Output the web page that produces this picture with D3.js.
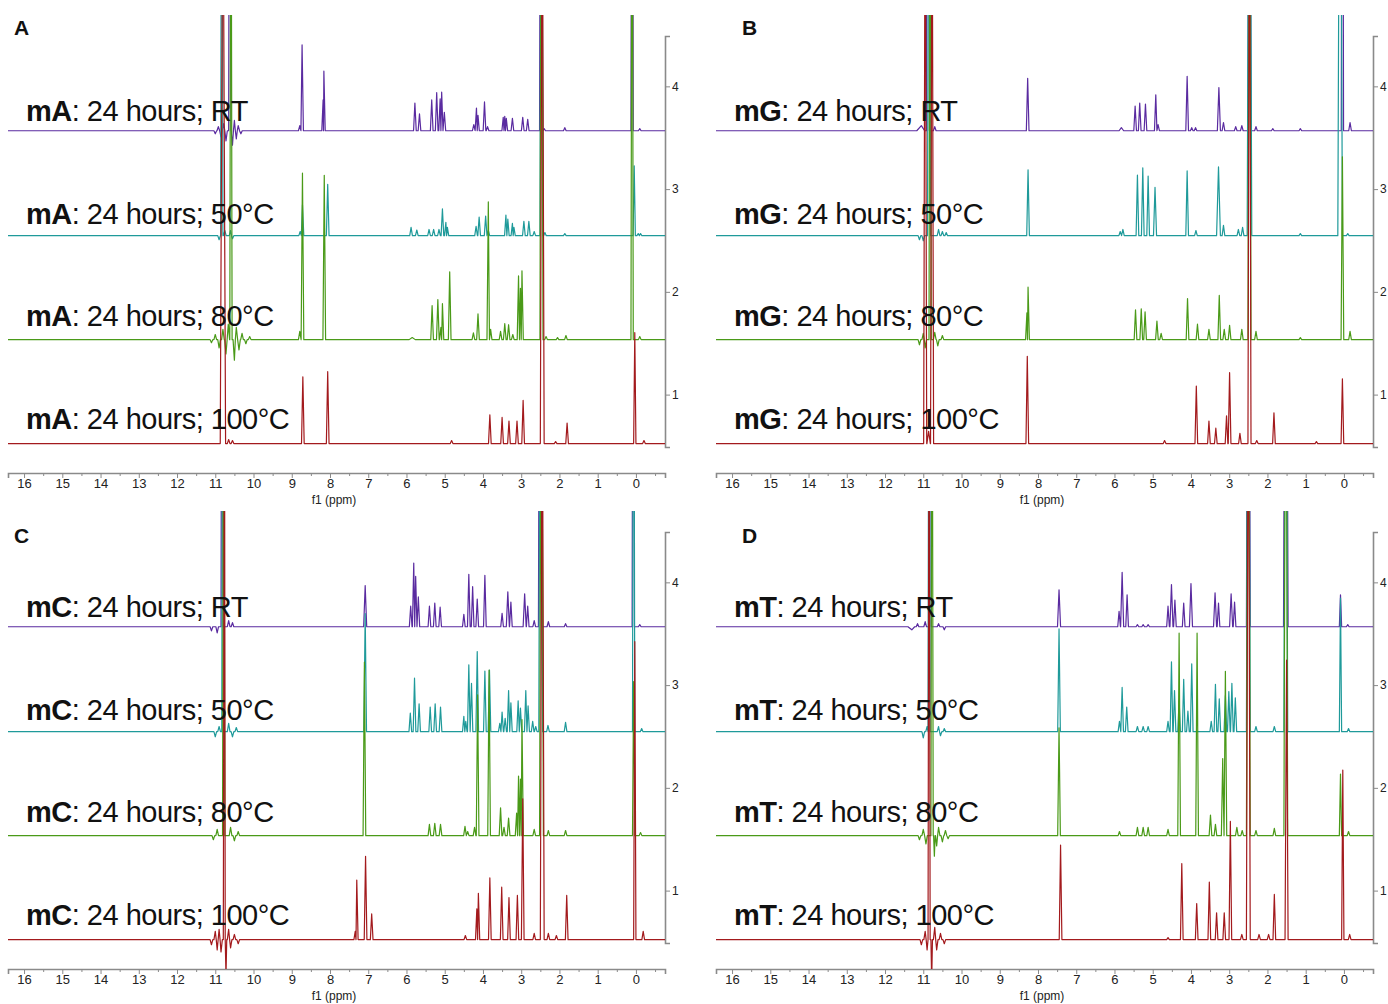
<!DOCTYPE html>
<html>
<head>
<meta charset="utf-8">
<script src="https://cdn.jsdelivr.net/npm/d3@7"></script>
<style>
  body { margin: 0; background: #fff; }
  svg { font-family: "Liberation Sans", Arial, sans-serif; }
</style>
</head>
<body>
<div id="grafiek"></div>
<script>
// peaks: [ppm, height above the trace baseline, half width (optional)]
const TALL = 6; // runs off the top of the panel

const compounds = ["mA", "mG", "mC", "mT"];
const conditions = ["RT", "50°C", "80°C", "100°C"];
const panelLetters = ["A", "B", "C", "D"];
const stackOffsets = [3.568, 2.547, 1.535, 0.523];
const labelLevels = [3.66, 2.665, 1.67, 0.67];
const ppmTicks = d3.range(0, 17);
const ppmMinorTicks = d3.range(-0.5, 16.5, 1);
const intensityTicks = [1, 2, 3, 4];
const traceColors = ["#5a2ba0", "#1f9a9a", "#4a9a18", "#a31a1d"];

const mA_RT = [[11.0,-0.03],[10.92,0.04],[10.85,-0.06],[10.78,0.07],[10.72,-0.1],[10.62,TALL,0.03],[10.55,-0.14],[10.5,0.1],[10.45,-0.08],[10.4,0.05],[10.33,-0.03],
  [8.79,0.05],[8.73,0.835],[8.18,0.3],[8.16,0.58],
  [5.78,0.27],[5.66,0.165],[5.34,0.3],[5.21,0.37],[5.12,0.31],[5.08,0.375],[5.01,0.18],
  [4.24,0.06],[4.17,0.22],[4.13,0.15],[3.96,0.28],[3.88,0.04],
  [3.47,0.13],[3.43,0.14],[3.39,0.12],[3.23,0.12],[2.96,0.13],[2.83,0.11],
  [2.48,TALL,0.04],[2.4,0.02],[1.86,0.03],[0.1,TALL,0.03],[-0.1,0.02]];
const mA_50 = [[10.9,-0.04],[10.83,TALL,0.03],[10.75,0.05],[10.6,0.05],[10.55,-0.03],
  [8.78,0.04],[8.72,0.3],[8.06,0.5],
  [5.88,0.08],[5.73,0.055],[5.41,0.06],[5.29,0.06],[5.15,0.06],[5.06,0.26],[4.97,0.13],[4.93,0.08],
  [4.18,0.09],[4.1,0.18],[3.93,0.19],[3.86,0.05],
  [3.4,0.2],[3.35,0.16],[3.23,0.12],[3.19,0.08],[2.93,0.14],[2.8,0.14],[2.66,0.04],
  [2.47,TALL,0.04],[2.38,0.03],[1.86,0.02],[0.045,0.68,0.03],[-0.06,0.02],[-0.12,0.02]];
const mA_80 = [[11.1,-0.03],[11.0,0.05],[10.9,-0.08],[10.8,0.1],[10.72,-0.14],[10.66,0.15],[10.59,TALL,0.03],[10.5,-0.2],[10.45,0.12],[10.38,-0.1],[10.3,0.06],[10.2,-0.04],[10.1,0.03],
  [8.79,0.08],[8.72,1.62],[8.15,1.6],
  [5.85,0.02,0.08],[5.33,0.33],[5.18,0.39],[5.1,0.12],[5.06,0.35],[4.87,0.66],
  [4.25,0.065],[4.13,0.25],[3.86,1.34],[3.8,0.1],
  [3.54,0.08],[3.43,0.155],[3.33,0.145],[3.22,0.05],
  [3.07,0.62],[3.02,0.5],[2.98,0.67],
  [2.47,TALL,0.04],[2.35,0.03],[2.05,0.02],[1.83,0.04],[0.1,TALL,0.03],[-0.1,0.03]];
const mA_100 = [[10.8,TALL,0.07],[10.65,0.04],[10.55,0.03],
  [8.71,0.65],[8.06,0.7],
  [4.82,0.03],[3.82,0.28],[3.5,0.255],[3.32,0.22],[3.11,0.22],[2.95,0.42],
  [2.45,TALL,0.05],[2.1,0.02],[1.8,0.2],[0.03,1.08,0.03],[-0.21,0.03]];

const mG_RT = [[11.05,0.05,0.12],[10.88,TALL,0.04],[10.7,0.04],
  [8.27,0.51],[5.82,0.03,0.06],[5.46,0.24],[5.34,0.27],[5.19,0.26],[4.92,0.35],[4.86,0.06],
  [4.1,0.53],[3.98,0.03],[3.88,0.03],[3.27,0.42,0.04],[3.15,0.08],[2.83,0.04],[2.67,0.05],
  [2.47,TALL,0.04],[2.3,0.04],[1.86,0.02],[1.14,0.02],[0.04,TALL,0.03],[-0.16,0.08]];
const mG_50 = [[11.1,-0.04],[11.0,-0.05],[10.85,TALL,0.04],[10.6,0.06],[10.5,0.04],[10.4,0.03],
  [8.26,0.64],[5.85,0.04],[5.78,0.06],[5.4,0.59],[5.26,0.66],[5.12,0.58],[4.94,0.47,0.04],
  [4.1,0.63],[3.87,0.05],[3.28,0.67,0.05],[3.15,0.1],[2.76,0.06],[2.65,0.08],
  [2.47,TALL,0.06],[1.14,0.02],[0.1,TALL,0.06],[-0.1,0.02]];
const mG_80 = [[11.1,-0.05],[11.0,0.06],[10.95,-0.08],[10.82,TALL,0.03],[10.7,0.07],[10.62,-0.06],[10.5,0.04],
  [8.29,0.26],[8.26,0.51],[5.45,0.29],[5.3,0.3],[5.2,0.27],[4.89,0.18],[4.78,0.06],
  [4.09,0.4],[3.83,0.15],[3.53,0.1],[3.26,0.43],[3.13,0.1],[2.99,0.14],[2.67,0.1],
  [2.47,TALL,0.04],[2.3,0.08],[1.14,0.02],[0.04,1.78],[-0.16,0.08]];
const mG_100 = [[10.95,TALL,0.04],[10.86,0.12,0.2],[10.77,TALL,0.04],
  [8.28,0.85],[4.69,0.03],[3.86,0.56],[3.53,0.22],[3.35,0.15],[3.07,0.27],[2.99,0.69],[2.72,0.1],
  [2.47,TALL,0.04],[2.28,0.03],[1.83,0.3],[0.72,0.02],[0.04,0.63]];

const mC_RT = [[11.1,-0.04],[10.95,-0.06],[10.82,TALL,0.03],[10.65,0.06],[10.55,0.04],
  [7.08,0.4,0.04],
  [5.89,0.2],[5.81,0.62,0.035],[5.76,0.49],[5.69,0.29],[5.4,0.2],[5.26,0.23],[5.12,0.19],
  [4.5,0.12],[4.37,0.51],[4.27,0.39],[4.15,0.27],[3.95,0.5],
  [3.5,0.13],[3.35,0.34,0.04],[3.27,0.24],[2.91,0.32,0.04],[2.83,0.2],[2.66,0.06],
  [2.5,TALL,0.05],[2.29,0.05],[1.84,0.03],[0.07,TALL,0.03],[-0.1,0.02]];
const mC_50 = [[11.0,-0.05],[10.9,0.05],[10.8,TALL,0.03],[10.65,0.08],[10.55,-0.05],[10.45,0.04],
  [7.08,1.15,0.035],
  [5.9,0.18],[5.79,0.52],[5.67,0.27],[5.38,0.24],[5.25,0.27],[5.11,0.24],
  [4.5,0.15],[4.45,0.1],[4.37,0.65],[4.3,0.47],[4.15,0.78],[3.95,0.59],[3.83,0.6],
  [3.56,0.08],[3.5,0.19],[3.42,0.13],[3.33,0.4],[3.27,0.28],
  [3.08,0.3],[3.02,0.23],[2.88,0.4],[2.82,0.25],[2.7,0.1],[2.62,0.05],
  [2.49,TALL,0.05],[2.3,0.06],[1.84,0.09],[0.06,TALL,0.03],[-0.15,0.03]];
const mC_80 = [[11.05,-0.04],[10.95,0.06],[10.78,TALL,0.03],[10.6,0.08],[10.5,-0.05],[10.4,0.04],
  [7.1,1.69,0.035],
  [5.4,0.11],[5.26,0.12],[5.11,0.11],[4.47,0.09],[4.4,0.04],[4.22,0.08],
  [4.14,1.37],[3.84,1.61],[3.54,0.27],[3.45,0.08],[3.33,0.17],[3.12,0.22],[3.07,0.58],[3.02,0.55],[2.98,1.13],[2.66,0.06],
  [2.47,TALL,0.05],[2.29,0.05],[1.84,0.05],[0.06,1.5,0.03],[-0.12,0.03]];
const mC_100 = [[11.1,-0.05],[11.0,0.08],[10.95,-0.1],[10.9,0.1],[10.85,-0.12],[10.76,TALL,0.03],[10.72,-0.35,0.02],[10.65,0.1],[10.6,-0.08],[10.5,0.05],[10.4,-0.04],
  [7.34,0.08],[7.3,0.58],[7.07,0.81],[6.91,0.25],
  [4.46,0.04],[4.16,0.3],[4.12,0.45],[3.82,0.6],[3.51,0.51],[3.32,0.41],[3.1,0.43],[2.96,1.37],[2.66,0.06],
  [2.45,TALL,0.05],[2.29,0.06],[2.08,0.04],[1.81,0.43],[0.03,2.9,0.03],[-0.19,0.08]];

const mT_RT = [[11.3,-0.03,0.1],[11.15,0.03],[10.95,0.05],[10.82,TALL,0.03],[10.6,0.03],[10.45,-0.03],
  [7.45,0.36,0.04],
  [5.88,0.15],[5.8,0.53,0.04],[5.67,0.31],[5.4,0.02],[5.25,0.02],[5.12,0.02],
  [4.6,0.2],[4.51,0.41,0.04],[4.42,0.26],[4.19,0.23],[4.0,0.42,0.04],
  [3.37,0.33,0.04],[3.28,0.23],[2.95,0.32,0.04],[2.86,0.24],
  [2.5,TALL,0.05],[1.52,TALL,0.06],[0.09,0.31,0.03],[-0.1,0.02]];
const mT_50 = [[11.0,-0.06],[10.9,0.05],[10.85,TALL,0.03],[10.6,0.05],[10.55,-0.04],[10.45,0.03],
  [7.45,1.0,0.035],
  [5.87,0.1],[5.8,0.43,0.035],[5.68,0.24],[5.4,0.05],[5.25,0.05],[5.12,0.05],
  [4.6,0.1],[4.51,0.68],[4.43,0.4],[4.31,0.3],[4.19,0.51],[4.08,0.2],[3.98,0.66],
  [3.47,0.1],[3.36,0.46],[3.26,0.32],[3.1,0.35],[3.01,0.39],[2.93,0.47],[2.84,0.33],
  [2.5,TALL,0.05],[2.3,0.05],[1.82,0.05],[1.52,TALL,0.05],[0.09,1.3,0.03],[-0.12,0.03]];
const mT_80 = [[11.1,-0.04],[11.0,0.06],[10.93,-0.08],[10.77,TALL,0.03],[10.71,-0.2,0.02],[10.65,-0.1],[10.6,0.08],[10.5,-0.06],[10.42,0.05],[10.35,-0.03],
  [7.45,1.05,0.035],[5.87,0.04],[5.4,0.08],[5.25,0.08],[5.12,0.08],[4.6,0.06],
  [4.31,1.97],[3.84,1.97],[3.49,0.2],[3.36,0.11],[3.17,0.75],[3.1,1.6],[2.8,0.08],[2.66,0.05],
  [2.5,TALL,0.05],[2.3,0.05],[1.82,0.07],[1.52,TALL,0.05],[0.09,0.6,0.03],[-0.12,0.04]];
const mT_100 = [[11.05,-0.05],[10.95,0.08],[10.9,-0.1],[10.85,TALL,0.03],[10.78,-0.4,0.02],[10.7,0.12],[10.65,-0.1],[10.55,0.06],[10.45,-0.04],
  [7.41,0.92],[4.6,0.02],[4.24,0.74],[3.85,0.35],[3.52,0.56],[3.33,0.26],[3.13,0.26],[2.97,1.15],[2.67,0.05],
  [2.5,TALL,0.05],[2.22,0.05],[1.97,0.05],[1.82,0.44],[1.5,2.72,0.04],[0.03,1.65,0.03],[-0.15,0.05]];

const spectra = [
  [mA_RT, mA_50, mA_80, mA_100],
  [mG_RT, mG_50, mG_80, mG_100],
  [mC_RT, mC_50, mC_80, mC_100],
  [mT_RT, mT_50, mT_80, mT_100]
];

// Afmetingen
const W = 1388, H = 1004;
const panelShift = [[0, 0], [708, 0], [0, 496], [708, 496]];
const letterPos = [[14, 35], [34, 35], [14, 47], [34, 47]];

const svg = d3.select('#grafiek')
  .append('svg')
  .attr('width', W)
  .attr('height', H);

const x = d3.scaleLinear().domain([16.42, -0.76]).range([8, 665]);
const y = d3.scaleLinear().domain([0.49, 4.49]).range([447, 36]);

// turn a peak list into a stick trace: baseline - foot - apex - foot - baseline
function tracePoints(peaks) {
  const sorted = peaks.slice().sort((a, b) => b[0] - a[0]);
  const pts = [[x.domain()[0], 0]];
  sorted.forEach((p, i) => {
    const w = p[2] || 0.035;
    const prev = sorted[i - 1], next = sorted[i + 1];
    const wl = prev ? Math.min(w, (prev[0] - p[0]) / 2) : w;
    const wr = next ? Math.min(w, (p[0] - next[0]) / 2) : w;
    pts.push([p[0] + wl, 0], [p[0], p[1]], [p[0] - wr, 0]);
  });
  pts.push([x.domain()[1], 0]);
  return pts;
}

compounds.forEach((cmp, pi) => {
  const g = svg.append('g')
    .attr('transform', `translate(${panelShift[pi][0]}, ${panelShift[pi][1]})`);

  const clipId = 'clip' + pi;
  g.append('clipPath').attr('id', clipId)
    .append('rect')
    .attr('x', x.range()[0]).attr('y', 15)
    .attr('width', x.range()[1] - x.range()[0])
    .attr('height', 458);

  // x axis
  g.append('g')
    .attr('transform', 'translate(0, 473)')
    .call(d3.axisBottom(x).tickValues(ppmTicks).tickFormat(d3.format('d')).tickSizeOuter(0).tickSize(5).tickPadding(1));
  g.append('g')
    .attr('transform', 'translate(0, 473)')
    .call(d3.axisBottom(x).tickValues(ppmMinorTicks).tickFormat('').tickSizeOuter(0).tickSize(3))
    .select('.domain').remove();

  g.append('text')
    .attr('x', 334).attr('y', 504)
    .attr('text-anchor', 'middle')
    .style('font-size', '12px')
    .style('fill', '#222')
    .text('f1 (ppm)');

  // y axis on the right
  g.append('g')
    .attr('class', 'yax')
    .attr('transform', 'translate(665, 0)')
    .call(d3.axisRight(y).tickValues(intensityTicks).tickFormat(d3.format('d')).tickSizeOuter(0).tickSize(5).tickPadding(2));

  g.selectAll('.domain').style('stroke', '#8a8a8a').style('stroke-width', 1.6);
  g.selectAll('.tick line').style('stroke', '#8a8a8a');
  g.selectAll('.tick text').style('font-size', '13px').style('fill', '#222')
    .style('font-family', '"Liberation Sans", Arial, sans-serif');
  g.selectAll('.yax .tick text').style('font-size', '12px');

  // traces
  const traces = g.append('g').attr('clip-path', `url(#${clipId})`);
  spectra[pi].forEach((peaks, si) => {
    const off = stackOffsets[si];
    const line = d3.line()
      .x(d => x(d[0]))
      .y(d => y(off + d[1]));
    traces.append('path')
      .datum(tracePoints(peaks))
      .attr('d', line)
      .style('fill', 'none')
      .style('stroke', traceColors[si])
      .style('stroke-width', 1.2)
      .style('stroke-linejoin', 'round');
  });

  // labels
  conditions.forEach((c, si) => {
    const t = g.append('text')
      .attr('x', 26)
      .attr('y', y(labelLevels[si]))
      .style('font-size', '29px')
      .style('letter-spacing', '-0.5px')
      .style('fill', '#111');
    t.append('tspan').style('font-weight', 'bold').text(cmp);
    t.append('tspan').text(': 24 hours; ' + c);
  });

  g.append('text')
    .attr('x', letterPos[pi][0]).attr('y', letterPos[pi][1])
    .style('font-size', '21px')
    .style('font-weight', 'bold')
    .style('fill', '#111')
    .text(panelLetters[pi]);
});
</script>
</body>
</html>
